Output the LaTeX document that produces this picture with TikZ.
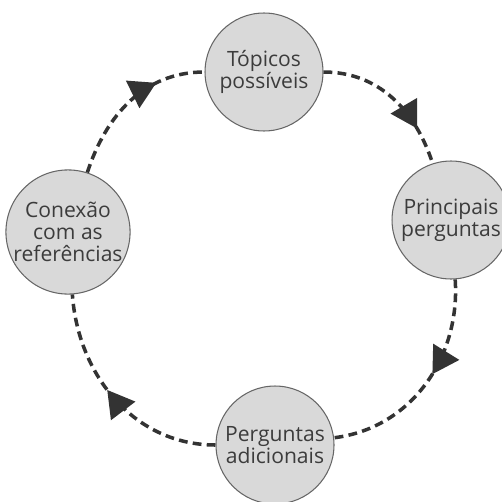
\documentclass[tikz,border=0pt]{standalone}
\usepackage{fontspec}
\setmainfont{Open Sans}
\usepackage{tikz}
\usetikzlibrary{arrows.meta,decorations.markings}
\definecolor{tinta}{HTML}{333333}
\definecolor{borda}{HTML}{666666}
\definecolor{preench}{HTML}{D9D9D9}
\definecolor{texto}{HTML}{3C3C3C}

\begin{document}
\begin{tikzpicture}[x=0.02cm, y=0.02cm,
    etapa/.style={circle, draw=borda, line width=0.6pt, fill=preench,
      minimum size=2.36cm, inner sep=0pt, align=center, text=texto,
      font=\fontsize{12}{12.5}\selectfont},
    fluxo/.style={tinta, line width=2pt, dash pattern=on 5pt off 3pt,
      postaction={decorate, decoration={markings,
        mark=at position #1 with {\arrow{Triangle[length=15pt, width=17pt]}}}}}]
  \useasboundingbox (0,0) rectangle (502,501);

  % Etapas do ciclo
  \node[etapa] (topicos)   at (264,429) {Tópicos\\possíveis};
  \node[etapa] (principais) at (451,281) {Principais\\perguntas};
  \node[etapa] (adicionais) at (275,56)  {Perguntas\\adicionais};
  \node[etapa] (conexao)   at (68,269)  {Conexão\\com as\\referências};

  % Setas tracejadas, sentido horario
  \draw[fluxo=0.7]  (conexao)    to[out=72, in=180] (topicos);
  \draw[fluxo=0.75] (topicos)    to[out=0, in=108]  (principais);
  \draw[fluxo=0.45] (principais) to[out=-86, in=7]  (adicionais);
  \draw[fluxo=0.55] (adicionais) to[out=180, in=-86] (conexao);
\end{tikzpicture}
\end{document}
